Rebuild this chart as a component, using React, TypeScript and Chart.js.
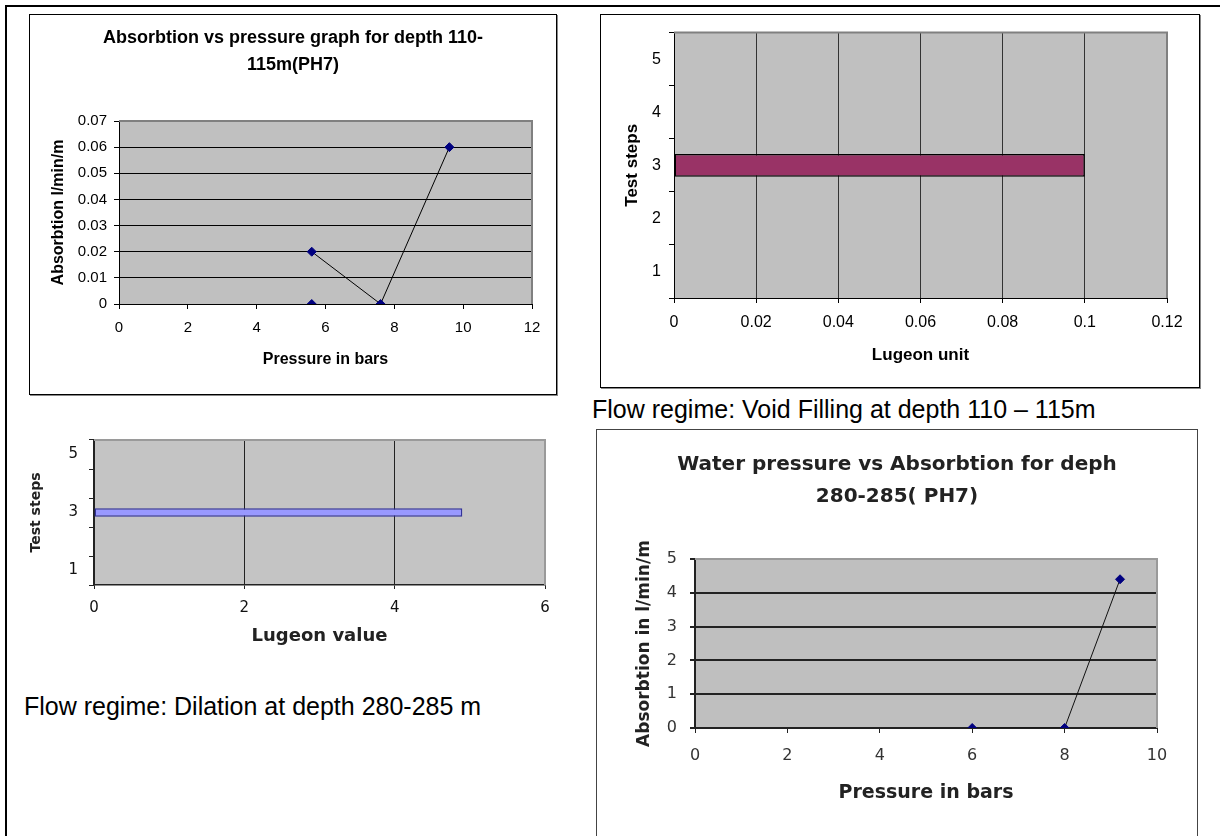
import React, { useEffect, useRef } from 'react';
import { Chart, registerables } from 'chart.js';

Chart.register(...registerables);

// ---------- Data ----------
// Chart 1: Absorbtion vs pressure, depth 110-115m
const c1Title = ['Absorbtion vs pressure graph for depth 110-', '115m(PH7)'];
const c1LinePressure = [5.6, 7.6, 9.6];
const c1LineAbsorption = [0.02, 0, 0.06];
const c1SinglePressure = [5.6];
const c1SingleAbsorption = [0];
const c1XTicks = [0, 2, 4, 6, 8, 10, 12];
const c1YTicks = [0, 0.01, 0.02, 0.03, 0.04, 0.05, 0.06, 0.07];

// Chart 2: Lugeon unit per test step (void filling)
const c2Steps = ['1', '2', '3', '4', '5'];
const c2Lugeon = [null, null, 0.1, null, null];
const c2XTicks = [0, 0.02, 0.04, 0.06, 0.08, 0.1, 0.12];

// Chart 3: Lugeon value per test step (dilation)
const c3Steps = ['1', '2', '3', '4', '5'];
const c3Lugeon = [null, null, 4.9, null, null];
const c3XTicks = [0, 2, 4, 6];

// Chart 4: Water pressure vs Absorbtion, depth 280-285
const c4Title = ['Water pressure vs Absorbtion for deph', '280-285( PH7)'];
const c4Pressure = [6, 8, 9.2];
const c4Absorption = [0, 0, 4.4];
const c4XTicks = [0, 2, 4, 6, 8, 10];
const c4YTicks = [0, 1, 2, 3, 4, 5];

const captionVoid = 'Flow regime: Void Filling at depth 110 \u2013 115m';
const captionDilation = 'Flow regime: Dilation at depth 280-285 m';

// ---------- Styles ----------
const ARIAL = '"Liberation Sans", Arial, Helvetica, sans-serif';
const TAHOMA = '"DejaVu Sans", Verdana, Tahoma, sans-serif';

const plotFrame = {
  id: 'plotFrame',
  beforeDraw(chart: any, _args: any, opts: any) {
    if (!opts || !opts.bg) return;
    const { ctx, chartArea: a } = chart;
    ctx.save();
    ctx.fillStyle = opts.bg;
    ctx.fillRect(a.left, a.top, a.right - a.left, a.bottom - a.top);
    ctx.restore();
  },
  beforeDatasetsDraw(chart: any, _args: any, opts: any) {
    if (!opts || !opts.edge) return;
    const { ctx, chartArea: a } = chart;
    ctx.save();
    ctx.strokeStyle = opts.edge;
    ctx.lineWidth = opts.edgeWidth || 2;
    ctx.beginPath();
    ctx.moveTo(a.left, a.top);
    ctx.lineTo(a.right, a.top);
    ctx.lineTo(a.right, a.bottom);
    ctx.stroke();
    ctx.restore();
  },
};
Chart.register(plotFrame);

const setTicks = (vals: number[]) => (s: any) => {
  s.ticks = vals.map((v) => ({ value: v }));
};

const rightSpacer = (w: number) => ({
  type: 'linear',
  position: 'right',
  display: true,
  grid: { display: false },
  ticks: { display: false },
  border: { display: false },
  afterFit: (s: any) => {
    s.width = w;
  },
});

function makeChart1(): any {
  const pts = (xs: number[], ys: number[]) => xs.map((x, i) => ({ x, y: ys[i] }));
  const marker = {
    pointStyle: 'rectRot',
    pointRadius: 4.5,
    pointBackgroundColor: '#000080',
    pointBorderColor: '#000080',
    pointBorderWidth: 1,
  };
  return {
    type: 'scatter',
    data: {
      datasets: [
        { data: pts(c1LinePressure, c1LineAbsorption), showLine: true, borderColor: '#000', borderWidth: 1, ...marker },
        { data: pts(c1SinglePressure, c1SingleAbsorption), showLine: false, ...marker },
      ],
    },
    options: {
      animation: false,
      responsive: false,
      layout: { padding: 0 },
      plugins: {
        legend: { display: false },
        tooltip: { enabled: false },
        title: {
          display: true,
          text: c1Title,
          color: '#000',
          font: { family: ARIAL, size: 18, weight: 'bold', lineHeight: 1.5 },
          padding: { top: 9.5, bottom: 42.5 },
        },
        plotFrame: { bg: '#C0C0C0', edge: '#808080', edgeWidth: 2 },
      },
      scales: {
        x: {
          type: 'linear',
          min: 0,
          max: 12,
          afterBuildTicks: setTicks(c1XTicks),
          afterFit: (s: any) => { s.height = 90; },
          grid: { drawOnChartArea: false, color: '#000', tickColor: '#000', tickLength: 5 },
          border: { color: '#000', width: 1 },
          ticks: { color: '#000', font: { family: ARIAL, size: 15 }, padding: 10, maxRotation: 0, autoSkip: false },
          title: { display: true, text: 'Pressure in bars', color: '#000', font: { family: ARIAL, size: 16, weight: 'bold' }, padding: { top: 0, bottom: 24.4 } },
        },
        y: {
          type: 'linear',
          min: 0,
          max: 0.07,
          afterBuildTicks: setTicks(c1YTicks),
          afterFit: (s: any) => { s.width = 89; },
          grid: { color: '#000', tickColor: '#000', tickLength: 5 },
          border: { color: '#000', width: 1 },
          ticks: { color: '#000', font: { family: ARIAL, size: 15 }, padding: 7, format: { minimumFractionDigits: 0 } },
          title: { display: true, text: 'Absorbtion l/min/m', color: '#000', font: { family: ARIAL, size: 16, weight: 'bold' }, padding: { top: 19.4, bottom: 0 } },
        },
        spacer: rightSpacer(24),
      },
    },
  };
}

function makeChart2(): any {
  return {
    type: 'bar',
    data: {
      labels: c2Steps,
      datasets: [
        {
          data: c2Lugeon,
          backgroundColor: '#993366',
          borderColor: '#000',
          borderWidth: 1.5,
          borderSkipped: false,
          barPercentage: 0.43,
          categoryPercentage: 1,
        },
      ],
    },
    options: {
      indexAxis: 'y',
      animation: false,
      responsive: false,
      layout: { padding: { top: 14, left: 0, right: 0, bottom: 0 } },
      plugins: {
        legend: { display: false },
        tooltip: { enabled: false },
        plotFrame: { bg: '#C0C0C0', edge: '#808080', edgeWidth: 2 },
      },
      scales: {
        x: {
          type: 'linear',
          min: 0,
          max: 0.12,
          afterBuildTicks: setTicks(c2XTicks),
          afterFit: (s: any) => { s.height = 89; },
          grid: { color: '#333', tickColor: '#000', tickLength: 5 },
          border: { color: '#000', width: 1 },
          ticks: { color: '#000', font: { family: ARIAL, size: 16 }, padding: 10.4, maxRotation: 0, autoSkip: false, format: { minimumFractionDigits: 0 } },
          title: { display: true, text: 'Lugeon unit', color: '#000', font: { family: ARIAL, size: 17, weight: 'bold' }, padding: { top: 0, bottom: 21.8 } },
        },
        y: {
          type: 'category',
          reverse: true,
          afterFit: (s: any) => { s.width = 73; },
          grid: { drawOnChartArea: false, color: '#000', tickColor: '#000', tickLength: 5 },
          border: { color: '#000', width: 1 },
          ticks: { color: '#000', font: { family: ARIAL, size: 16 }, padding: 8 },
          title: { display: true, text: 'Test steps', color: '#000', font: { family: ARIAL, size: 17, weight: 'bold' }, padding: { top: 20.8, bottom: 0 } },
        },
        spacer: rightSpacer(32),
      },
    },
  };
}

function makeChart3(): any {
  return {
    type: 'bar',
    data: {
      labels: c3Steps,
      datasets: [
        {
          data: c3Lugeon,
          backgroundColor: '#9999FF',
          borderColor: '#333399',
          borderWidth: 1.5,
          borderSkipped: false,
          barPercentage: 0.3,
          categoryPercentage: 1,
        },
      ],
    },
    options: {
      indexAxis: 'y',
      animation: false,
      responsive: false,
      layout: { padding: { top: 13, left: 0, right: 0, bottom: 0 } },
      plugins: {
        legend: { display: false },
        tooltip: { enabled: false },
        plotFrame: { bg: '#C4C4C4', edge: '#9a9a9a', edgeWidth: 2 },
      },
      scales: {
        x: {
          type: 'linear',
          min: 0,
          max: 6,
          afterBuildTicks: setTicks(c3XTicks),
          afterFit: (s: any) => { s.height = 70; },
          grid: { color: '#222', tickColor: '#222', tickLength: 4 },
          border: { color: '#222', width: 1.5 },
          ticks: { color: '#111', font: { family: TAHOMA, size: 15 }, padding: 10, maxRotation: 0, autoSkip: false },
          title: { display: true, text: 'Lugeon value', color: '#222', font: { family: TAHOMA, size: 18, weight: 'bold' }, padding: { top: 0, bottom: 7.8 } },
        },
        y: {
          type: 'category',
          reverse: true,
          afterFit: (s: any) => { s.width = 76; },
          grid: { drawOnChartArea: false, color: '#222', tickColor: '#222', tickLength: 5 },
          border: { color: '#222', width: 1.5 },
          ticks: {
            color: '#111',
            font: { family: TAHOMA, size: 15 },
            padding: 11,
            autoSkip: false,
            callback: (_v: any, i: number) => (i % 2 === 0 ? c3Steps[i] : ''),
          },
          title: { display: true, text: 'Test steps', color: '#222', font: { family: TAHOMA, size: 14, weight: 'bold' }, padding: { top: 9.6, bottom: 0 } },
        },
        spacer: rightSpacer(15),
      },
    },
  };
}

function makeChart4(): any {
  return {
    type: 'scatter',
    data: {
      datasets: [
        {
          data: c4Pressure.map((x, i) => ({ x, y: c4Absorption[i] })),
          showLine: true,
          borderColor: '#111',
          borderWidth: 1,
          pointStyle: 'rectRot',
          pointRadius: 4.5,
          pointBackgroundColor: '#000080',
          pointBorderColor: '#000080',
          pointBorderWidth: 1,
        },
      ],
    },
    options: {
      animation: false,
      responsive: false,
      layout: { padding: 0 },
      plugins: {
        legend: { display: false },
        tooltip: { enabled: false },
        title: {
          display: true,
          text: c4Title,
          color: '#222',
          font: { family: TAHOMA, size: 20, weight: 'bold', lineHeight: 1.6 },
          padding: { top: 19, bottom: 46 },
        },
        plotFrame: { bg: '#BFBFBF', edge: '#9a9a9a', edgeWidth: 2 },
      },
      scales: {
        x: {
          type: 'linear',
          min: 0,
          max: 10,
          afterBuildTicks: setTicks(c4XTicks),
          afterFit: (s: any) => { s.height = 108; },
          grid: { drawOnChartArea: false, color: '#222', tickColor: '#222', tickLength: 5 },
          border: { color: '#222', width: 2 },
          ticks: { color: '#333', font: { family: TAHOMA, size: 16 }, padding: 13.4, maxRotation: 0, autoSkip: false },
          title: { display: true, text: 'Pressure in bars', color: '#222', font: { family: TAHOMA, size: 19, weight: 'bold' }, padding: { top: 0, bottom: 31.6 } },
        },
        y: {
          type: 'linear',
          min: 0,
          max: 5,
          afterBuildTicks: setTicks(c4YTicks),
          afterFit: (s: any) => { s.width = 98; },
          grid: { color: '#222', lineWidth: 2, tickColor: '#222', tickLength: 5 },
          border: { color: '#222', width: 2 },
          ticks: { color: '#333', font: { family: TAHOMA, size: 16 }, padding: 13 },
          title: { display: true, text: 'Absorbtion in l/min/m', color: '#222', font: { family: TAHOMA, size: 17, weight: 'bold' }, padding: { top: 37.8, bottom: 0 } },
        },
        spacer: rightSpacer(40),
      },
    },
  };
}

function ChartCanvas({ make, w, h, left = 0, top = 0 }: { make: () => any; w: number; h: number; left?: number; top?: number }) {
  const ref = useRef<HTMLCanvasElement>(null);
  useEffect(() => {
    const chart = new Chart(ref.current as HTMLCanvasElement, make());
    return () => chart.destroy();
  }, []);
  return (
    <canvas
      ref={ref}
      width={w}
      height={h}
      style={{ position: 'absolute', left, top, width: w, height: h, display: 'block' }}
    />
  );
}

const captionStyle: React.CSSProperties = {
  position: 'absolute',
  fontFamily: ARIAL,
  fontSize: 25,
  lineHeight: '25px',
  whiteSpace: 'nowrap',
  color: '#000',
};

export default function App() {
  return (
    <div
      style={{
        position: 'absolute',
        left: 0,
        top: 0,
        width: 1220,
        height: 836,
        overflow: 'hidden',
        background: '#fff',
      }}
    >
      {/* outer table frame */}
      <div
        style={{
          position: 'absolute',
          left: 5,
          top: 5,
          width: 1240,
          height: 860,
          borderTop: '2px solid #000',
          borderLeft: '2px solid #000',
        }}
      />
      {/* chart 1 */}
      <div
        style={{
          position: 'absolute',
          left: 29,
          top: 14,
          width: 526,
          height: 379,
          border: '1px solid #000',
          boxShadow: '1px 1px 0 #888',
        }}
      >
        <ChartCanvas make={makeChart1} w={526} h={379} />
      </div>
      {/* chart 2 */}
      <div
        style={{
          position: 'absolute',
          left: 600,
          top: 14,
          width: 598,
          height: 372,
          border: '1px solid #000',
          boxShadow: '1px 1px 0 #888',
        }}
      >
        <ChartCanvas make={makeChart2} w={598} h={372} />
      </div>
      <div style={{ ...captionStyle, left: 592, top: 397 }}>{captionVoid}</div>
      {/* chart 3 */}
      <ChartCanvas make={makeChart3} w={542} h={235} left={18} top={420} />
      <div style={{ ...captionStyle, left: 24, top: 694 }}>{captionDilation}</div>
      {/* chart 4 */}
      <div
        style={{
          position: 'absolute',
          left: 596,
          top: 429,
          width: 600,
          height: 406,
          border: '1px solid #444',
        }}
      >
        <ChartCanvas make={makeChart4} w={600} h={406} />
      </div>
    </div>
  );
}
